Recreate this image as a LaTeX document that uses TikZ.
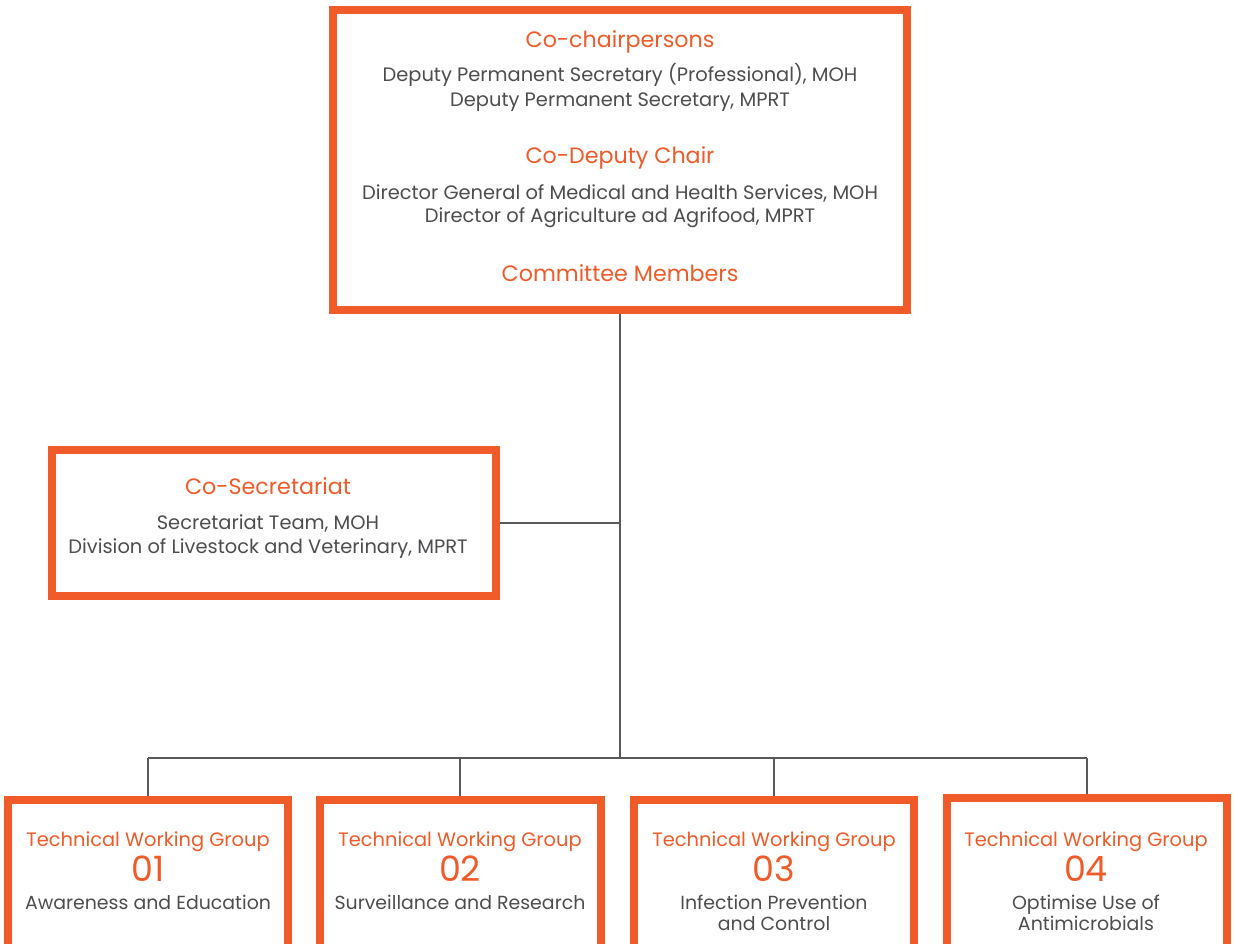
\documentclass[tikz,border=0pt]{standalone}
\usepackage{fontspec}
\setmainfont{Poppins}
\definecolor{orng}{HTML}{F15A29}
\definecolor{txt}{HTML}{4D4D4F}
\definecolor{ln}{HTML}{58595B}
\tikzset{
  box/.style={draw=orng,line width=8bp,rectangle,inner sep=0pt,fill=white},
  head/.style={text=orng,font=\fontsize{22.3}{26}\selectfont,anchor=base,inner sep=0pt},
  body/.style={text=txt,font=\fontsize{19.5}{24}\selectfont,anchor=base,inner sep=0pt},
  desc/.style={text=txt,font=\fontsize{19}{24}\selectfont,anchor=base,inner sep=0pt},
  twg/.style={text=orng,font=\fontsize{19.5}{22}\selectfont,anchor=base,inner sep=0pt},
  num/.style={text=orng,font=\fontsize{35}{38}\selectfont,anchor=base,inner sep=0pt},
  conn/.style={draw=ln,line width=1.6bp}
}
\begin{document}
\begin{tikzpicture}[x=1bp,y=-1bp]
\useasboundingbox (0,0) rectangle (1234,944);
\clip (0,0) rectangle (1234,944);
% boxes
\node[box,minimum width=574bp,minimum height=300bp] (top) at (620,160) {};
\node[box,minimum width=444bp,minimum height=146bp] (sec) at (274,523) {};
\node[box,minimum width=280bp,minimum height=200bp] (t1) at (148,900) {};
\node[box,minimum width=281bp,minimum height=200bp] (t2) at (460,900) {};
\node[box,minimum width=280bp,minimum height=200bp] (t3) at (774,900) {};
\node[box,minimum width=280bp,minimum height=200bp] (t4) at (1087,898) {};
% connectors
\coordinate (bus) at (620,758);
\draw[conn] (top.south) -- (top.south |- bus);
\draw[conn] (sec.east) -- (sec.east -| top.south);
\draw[conn] (t1.north |- bus) -- (t4.north |- bus);
\foreach \t in {t1,t2,t3,t4} \draw[conn] (\t.north) -- (\t.north |- bus);
% top texts
\node[head] (h1) at (620,47) {Co-chairpersons};
\node[body] (b1) at (620,81) {Deputy Permanent Secretary (Professional), MOH};
\node[body] (b2) at (620,106) {Deputy Permanent Secretary, MPRT};
\node[head] (h2) at (620,163) {Co-Deputy Chair};
\node[body] (b3) at (620,199) {Director General of Medical and Health Services, MOH};
\node[body] (b4) at (620,222) {Director of Agriculture ad Agrifood, MPRT};
\node[head] (h3) at (620,281) {Committee Members};
% secretariat
\node[head] (h4) at (268,494) {Co-Secretariat};
\node[body] (b5) at (268,529) {Secretariat Team, MOH};
\node[body] (b6) at (268,553) {Division of Livestock and Veterinary, MPRT};
% TWGs
\node[twg] (g1) at (148,846) {Technical Working Group};
\node[num] (n1) at (148,881) {01};
\node[desc] (d1) at (148,909) {Awareness and Education};
\node[twg] (g2) at (460,846) {Technical Working Group};
\node[num] (n2) at (460,881) {02};
\node[desc] (d2) at (460,909) {Surveillance and Research};
\node[twg] (g3) at (774,846) {Technical Working Group};
\node[num] (n3) at (774,881) {03};
\node[desc] (d3) at (774,909) {Infection Prevention};
\node[desc] (d3b) at (774,930) {and Control};
\node[twg] (g4) at (1086,846) {Technical Working Group};
\node[num] (n4) at (1086,881) {04};
\node[desc] (d4) at (1086,909) {Optimise Use of};
\node[desc] (d4b) at (1086,930) {Antimicrobials};
\end{tikzpicture}
\end{document}
